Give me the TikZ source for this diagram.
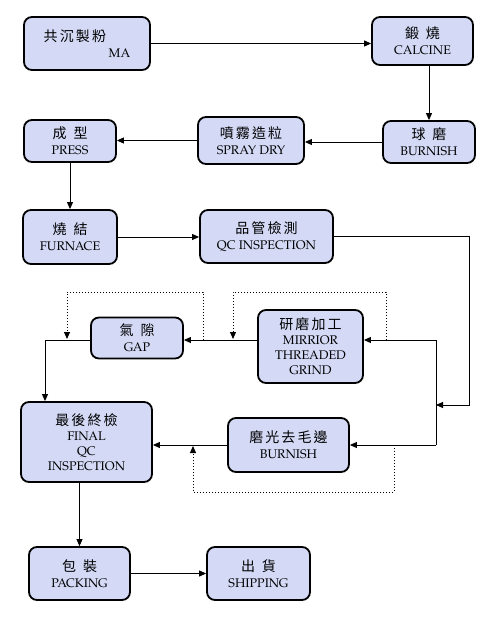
\documentclass[tikz,border=0pt]{standalone}
\usepackage{fontspec}
\setmainfont{TeX Gyre Pagella}
\newfontfamily\cjk[LetterSpace=15]{Noto Sans CJK TC}
\usetikzlibrary{arrows.meta}
\definecolor{boxfill}{RGB}{212,218,246}
\newcommand{\zh}[1]{{\cjk\fontsize{14}{16}\selectfont #1}}
\newcommand{\zhsp}{\hspace{0.5em}}
\tikzset{
  proc/.style={draw=black, line width=1.8pt, rounded corners=8pt, fill=boxfill,
    align=center, inner sep=2pt, font=\fontsize{12.5}{15}\selectfont},
  flow/.style={line width=0.9pt, -{Triangle[length=7pt,width=6pt]}},
  plain/.style={line width=0.9pt},
  loopback/.style={line width=1pt, dotted, -{Triangle[length=7pt,width=6pt]}},
}
\begin{document}
\begin{tikzpicture}[x=1pt,y=-1pt]
\fill[white] (0,0) rectangle (500,620);
\useasboundingbox (0,0) rectangle (500,620);

\node[proc, align=left, minimum width=126pt, minimum height=53pt] (ma) at (87,43.5) {\zh{共沉製粉}\\[1pt]\hspace*{65pt}MA};
\node[proc, minimum width=101pt, minimum height=48pt] (calcine) at (422.5,41) {\zh{鍛\zhsp 燒}\\[1pt]CALCINE};
\node[proc, minimum width=92pt, minimum height=42pt] (burn1) at (429,142) {\zh{球\zhsp 磨}\\[1pt]BURNISH};
\node[proc, minimum width=106pt, minimum height=47pt] (spray) at (251,140.5) {\zh{噴霧造粒}\\[1pt]SPRAY DRY};
\node[proc, minimum width=92pt, minimum height=42pt] (press) at (70,141) {\zh{成\zhsp 型}\\[1pt]PRESS};
\node[proc, minimum width=94pt, minimum height=54pt] (furnace) at (70,237) {\zh{燒\zhsp 結}\\[1pt]FURNACE};
\node[proc, minimum width=133pt, minimum height=53pt] (qc) at (266.5,236.5) {\zh{品管檢測}\\[1pt]QC INSPECTION};
\node[proc, minimum width=105pt, minimum height=73pt] (mirror) at (310.5,346.5) {\zh{研磨加工}\\MIRRIOR\\THREADED\\GRIND};
\node[proc, minimum width=92pt, minimum height=41pt] (gap) at (137,338) {\zh{氣\zhsp 隙}\\[1pt]GAP};
\node[proc, minimum width=131pt, minimum height=80pt] (final) at (86.5,442) {\zh{最後終檢}\\FINAL\\QC\\INSPECTION};
\node[proc, minimum width=121pt, minimum height=54pt] (burn2) at (288.5,445) {\zh{磨光去毛邊}\\[1pt]BURNISH};
\node[proc, minimum width=101pt, minimum height=53pt] (packing) at (79.5,573.5) {\zh{包\zhsp 裝}\\[1pt]PACKING};
\node[proc, minimum width=103pt, minimum height=53pt] (shipping) at (258.5,573.5) {\zh{出\zhsp 貨}\\[1pt]SHIPPING};

% main flow
\draw[flow] (ma.east) -- (ma.east -| calcine.west);
\draw[flow] (burn1.north |- calcine.south) -- (burn1.north);
\draw[flow] (burn1.west) -- (burn1.west -| spray.east);
\draw[flow] (spray.west) -- (spray.west -| press.east);
\draw[flow] (press.south) -- (furnace.north);
\draw[flow] (furnace.east) -- (furnace.east -| qc.west);

\coordinate (bt) at (436,340);
\coordinate (bb) at (436,445);
\coordinate (bj) at (436,405);
\coordinate (r1) at (469,405);
\draw[flow] (qc.east) -| (r1) -- (bj);
\draw[plain] (bt) -- (bb);
\draw[flow] (bt) -- (bt -| mirror.east);
\draw[flow] (bb) -- (bb -| burn2.east);
\draw[flow] (bt -| mirror.west) -- (bt -| gap.east);
\coordinate (gl) at (45,340);
\draw[flow] (gap.west |- gl) -- (gl) -- (gl |- final.north);
\draw[flow] (burn2.west) -- (burn2.west -| final.east);
\draw[flow] (packing.north |- final.south) -- (packing.north);
\draw[flow] (packing.east) -- (shipping.west);

% dotted loops
\coordinate (d1a) at (386,340); \coordinate (d1b) at (386,292);
\coordinate (d1c) at (233,292); \coordinate (d1d) at (233,339);
\draw[loopback] (d1a) -- (d1b) -- (d1c) -- (d1d);
\coordinate (d2a) at (203,340); \coordinate (d2b) at (203,292);
\coordinate (d2c) at (67,292); \coordinate (d2d) at (67,339);
\draw[loopback] (d2a) -- (d2b) -- (d2c) -- (d2d);
\coordinate (d3a) at (394,445); \coordinate (d3b) at (394,492);
\coordinate (d3c) at (193,492); \coordinate (d3d) at (193,446);
\draw[loopback] (d3a) -- (d3b) -- (d3c) -- (d3d);
\end{tikzpicture}
\end{document}
